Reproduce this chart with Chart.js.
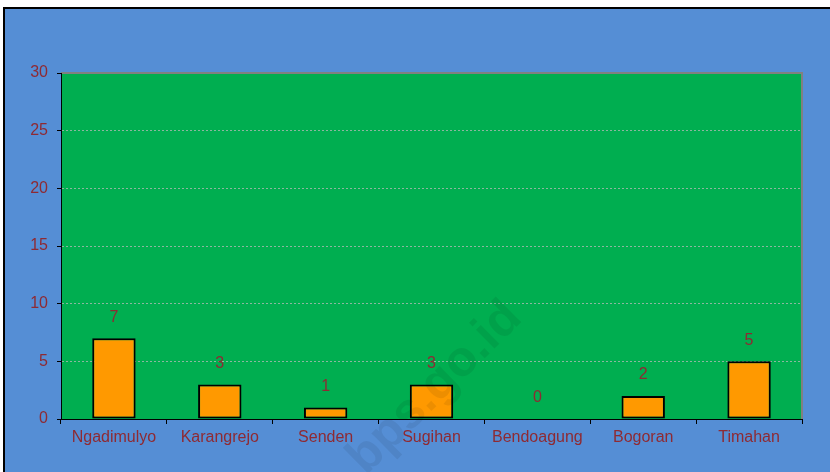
<!DOCTYPE html>
<html>
<head>
<meta charset="utf-8">
<script src="https://cdn.jsdelivr.net/npm/chart.js@4.4.0/dist/chart.umd.min.js"></script>
<style>
  html, body { margin: 0; padding: 0; background: #fff; }
  #wrap { width: 830px; height: 472px; }
</style>
</head>
<body>
<div id="wrap"><canvas id="myChart" width="830" height="472"></canvas></div>
<script>
let labels = ['Ngadimulyo', 'Karangrejo', 'Senden', 'Sugihan', 'Bendoagung', 'Bogoran', 'Timahan'];
let values = [7, 3, 1, 3, 0, 2, 5];
let yTicks = [0, 5, 10, 15, 20, 25, 30];

let textColor = '#8E2A33';
let fontName = '"Liberation Sans", Arial, sans-serif';

// background, frame and plot area
let bgPlugin = {
  id: 'bg',
  beforeDraw: (chart) => {
    let c = chart.ctx;
    let a = chart.chartArea;
    c.save();
    c.fillStyle = '#fff';
    c.fillRect(0, 0, chart.width, chart.height);
    c.fillStyle = '#000';
    c.fillRect(3, 7, chart.width - 3, chart.height - 7);
    c.fillStyle = '#558ED5';
    c.fillRect(5, 9, chart.width - 5, chart.height - 9);
    c.fillStyle = '#00AE50';
    c.fillRect(a.left, a.top, a.right - a.left, a.bottom - a.top);
    c.strokeStyle = '#808080';
    c.lineWidth = 2;
    c.beginPath();
    c.moveTo(a.left, a.top);
    c.lineTo(a.right, a.top);
    c.lineTo(a.right, a.bottom);
    c.stroke();
    c.restore();
  }
};

// value labels and watermark
let labelPlugin = {
  id: 'vals',
  afterDatasetsDraw: (chart) => {
    let c = chart.ctx;
    let meta = chart.getDatasetMeta(0);
    c.save();
    c.fillStyle = textColor;
    c.font = '16px ' + fontName;
    c.textAlign = 'center';
    c.textBaseline = 'middle';
    meta.data.forEach((bar, i) => {
      c.fillText(String(values[i]), bar.x, bar.y - 21);
    });
    c.translate(435, 388);
    c.rotate(-0.78);
    c.font = 'bold 50px ' + fontName;
    c.fillStyle = 'rgba(0,0,0,0.07)';
    c.fillText('bps.go.id', 0, 0);
    c.restore();
  }
};

let ctx = document.getElementById('myChart').getContext('2d');
let myChart = new Chart(ctx, {
  type: 'bar',
  data: {
    labels: labels,
    datasets: [{
      data: values,
      backgroundColor: '#FF9900',
      borderColor: '#000',
      borderWidth: 2,
      borderSkipped: false,
      categoryPercentage: 1,
      barPercentage: 0.41
    }]
  },
  options: {
    responsive: false,
    animation: false,
    layout: { padding: { left: 5, top: 73, right: 28, bottom: 0 } },
    plugins: {
      legend: { display: false },
      tooltip: { enabled: false }
    },
    scales: {
      x: {
        offset: true,
        afterFit: (s) => { s.height = 53; },
        grid: {
          offset: true,
          drawOnChartArea: false,
          tickLength: 5,
          tickColor: '#000'
        },
        border: { display: true, color: '#000', width: 1 },
        ticks: {
          color: textColor,
          font: { family: fontName, size: 16 },
          padding: 4,
          maxRotation: 0,
          autoSkip: false
        }
      },
      y: {
        min: 0,
        max: 30,
        afterFit: (s) => { s.width = 56; },
        afterBuildTicks: (s) => { s.ticks = yTicks.map(v => ({ value: v })); },
        grid: {
          color: (c) => (c.tick && (c.tick.value === 0 || c.tick.value === 30)) ? 'rgba(0,0,0,0)' : 'rgba(185,185,185,0.75)',
          tickLength: 4,
          tickColor: '#000',
          tickBorderDash: [],
          lineWidth: 1
        },
        border: { display: true, color: '#000', width: 1, dash: [2, 2] },
        ticks: {
          color: textColor,
          font: { family: fontName, size: 16 },
          padding: 9
        }
      }
    }
  },
  plugins: [bgPlugin, labelPlugin]
});
</script>
</body>
</html>
